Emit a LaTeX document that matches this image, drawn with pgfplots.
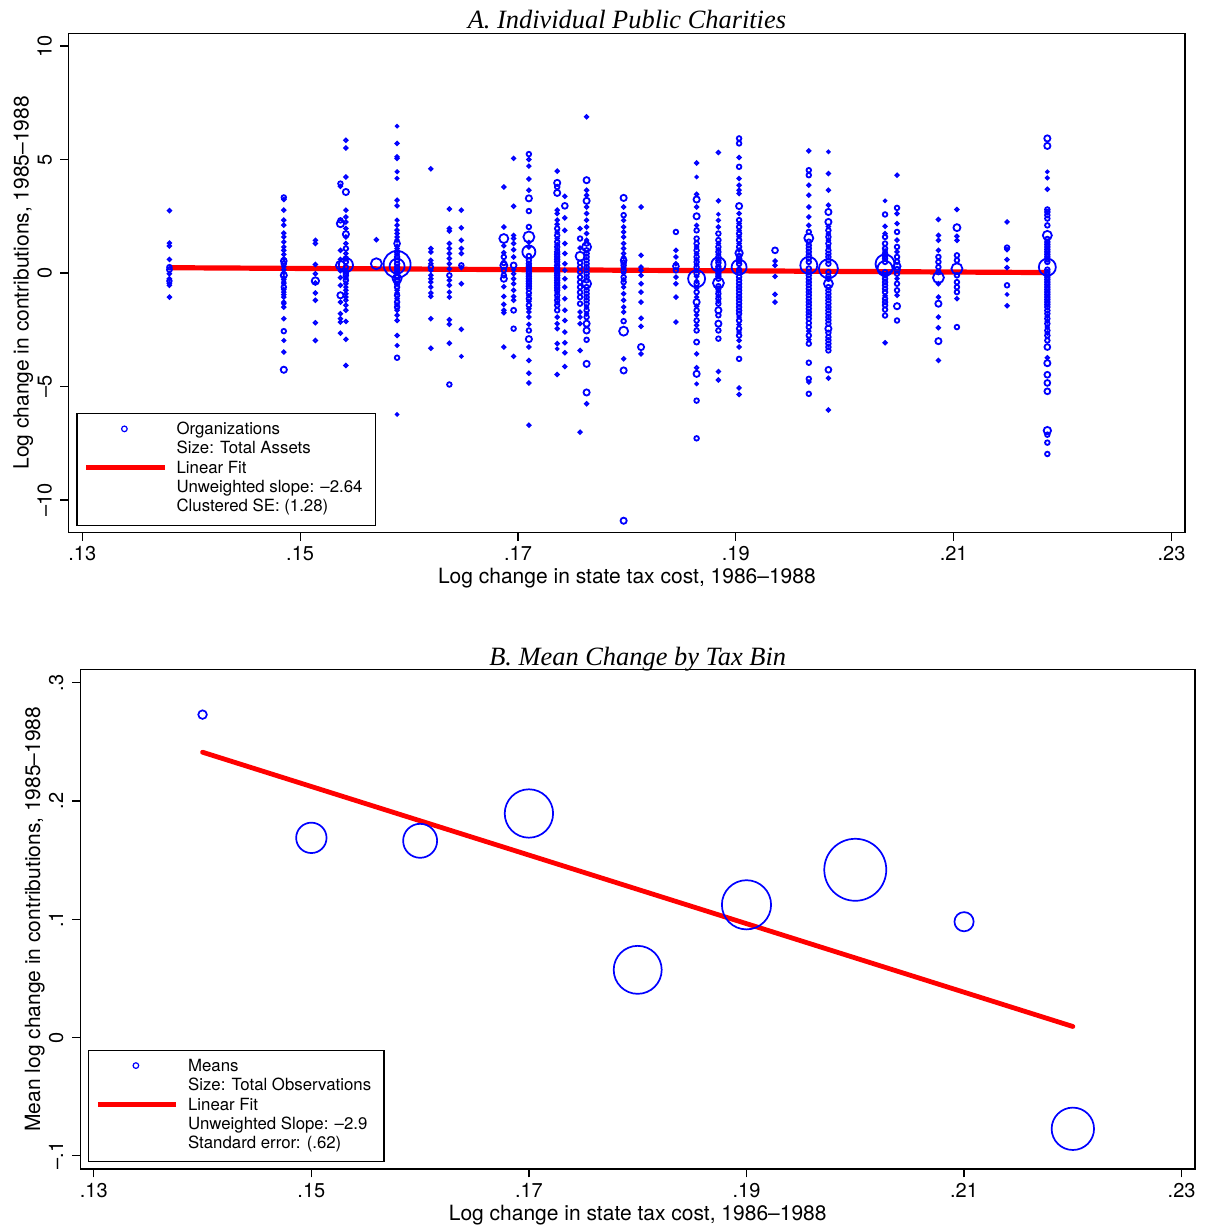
\documentclass[border=0pt]{standalone}
\usepackage{fontspec}
\setmainfont{TeX Gyre Heros}
\newfontfamily\titlefont{Liberation Serif}
\usepackage{pgfplots}
\usepackage{pgfplotstable}
\pgfplotsset{compat=1.18}

% panel A: one row per organization, x = tax cost change, y = contribution change, s = marker radius (pt)
\pgfplotstableread[row sep=\\]{
x y s\\
.1380 2.75 .6\\ .1380 1.32 .6\\ .1380 1.19 .6\\ .1380 0.60 .6\\ .1380 0.26 .9\\ .1380 0.15 1.0\\ .1380 -0.03 .6\\ .1380 -0.25 .6\\ .1380 -0.35 .9\\ .1380 -0.46 .6\\ .1380 -0.54 .6\\ .1380 -1.06 .6\\
.1485 3.33 .9\\ .1485 3.24 .6\\ .1485 2.77 .6\\ .1485 2.33 .6\\ .1485 2.11 .6\\ .1485 1.76 .6\\ .1485 1.59 .6\\ .1485 1.37 .6\\ .1485 1.15 .6\\ .1485 1.00 .6\\ .1485 0.82 .6\\ .1485 0.63 .6\\ .1485 0.53 1.2\\ .1485 0.41 .9\\ .1485 0.28 .6\\ .1485 0.15 .6\\ .1485 0.02 .6\\ .1485 -0.10 1.3\\ .1485 -0.20 .6\\ .1485 -0.29 .6\\ .1485 -0.40 .6\\ .1485 -0.47 .6\\ .1485 -0.62 .9\\ .1485 -0.73 .6\\ .1485 -0.84 .6\\ .1485 -0.95 .6\\ .1485 -1.06 .6\\ .1485 -1.28 .6\\ .1485 -1.35 .6\\ .1485 -1.50 .6\\ .1485 -2.01 .6\\ .1485 -2.56 .9\\ .1485 -2.97 .5\\ .1485 -3.48 .6\\ .1485 -4.26 1.3\\
.1514 1.44 .6\\ .1514 1.30 .6\\ .1514 0.38 .6\\ .1514 -0.03 .6\\ .1514 -0.35 1.6\\ .1514 -0.44 .6\\ .1514 -0.88 .6\\ .1514 -1.20 .6\\ .1514 -2.19 .6\\ .1514 -2.97 .6\\
.1537 3.94 .9\\ .1537 3.82 .6\\ .1537 2.32 .9\\ .1537 2.18 1.6\\ .1537 1.00 .6\\ .1537 0.60 .6\\ .1537 0.34 2.0\\ .1537 0.10 .6\\ .1537 -0.20 .6\\ .1537 -0.54 .6\\ .1537 -0.98 1.3\\ .1537 -1.28 .6\\ .1537 -1.79 .6\\ .1537 -2.01 .6\\ .1537 -2.16 .6\\ .1537 -2.65 .6\\
.1542 5.85 .6\\ .1542 5.51 .6\\ .1542 4.23 .6\\ .1542 3.57 1.3\\ .1542 2.77 .6\\ .1542 2.47 .6\\ .1542 2.25 .6\\ .1542 1.96 .6\\ .1542 1.71 1.3\\ .1542 1.59 .6\\ .1542 1.30 .6\\ .1542 1.08 .9\\ .1542 0.86 .6\\ .1542 0.64 .9\\ .1542 0.49 .9\\ .1542 0.35 3.3\\ .1542 0.26 .9\\ .1542 0.12 .6\\ .1542 0.00 .9\\ .1542 -0.10 .9\\ .1542 -0.22 .6\\ .1542 -0.32 .9\\ .1542 -0.47 .6\\ .1542 -0.62 .6\\ .1542 -0.76 .6\\ .1542 -0.91 .6\\ .1542 -1.06 .6\\ .1542 -1.20 .6\\ .1542 -1.42 .6\\ .1542 -1.64 .6\\ .1542 -2.13 .6\\ .1542 -2.92 .6\\ .1542 -4.07 .6\\
.1570 0.41 2.5\\ .1570 1.47 .6\\
.1589 6.47 .4\\ .1589 5.71 .6\\ .1589 5.12 .6\\ .1589 5.05 .6\\ .1589 4.46 .5\\ .1589 4.17 .5\\ .1589 3.21 .6\\ .1589 2.96 .6\\ .1589 2.33 .5\\ .1589 2.11 .6\\ .1589 1.89 .6\\ .1589 1.74 .6\\ .1589 1.59 .6\\ .1589 1.45 .6\\ .1589 1.30 1.2\\ .1589 1.18 .6\\ .1589 1.08 .6\\ .1589 0.93 .9\\ .1589 0.82 .6\\ .1589 0.71 .9\\ .1589 0.56 .9\\ .1589 0.41 .9\\ .1589 0.38 6.5\\ .1589 0.30 3.5\\ .1589 0.26 .9\\ .1589 0.12 .9\\ .1589 0.00 .9\\ .1589 -0.18 .9\\ .1589 -0.25 2.0\\ .1589 -0.32 .9\\ .1589 -0.47 .9\\ .1589 -0.62 .9\\ .1589 -0.76 .6\\ .1589 -0.88 .6\\ .1589 -0.98 .9\\ .1589 -1.13 .6\\ .1589 -1.28 .9\\ .1589 -1.40 .6\\ .1589 -1.50 .9\\ .1589 -1.64 .6\\ .1589 -1.86 .6\\ .1589 -2.09 .6\\ .1589 -2.75 .6\\ .1589 -3.19 .5\\ .1589 -3.73 .9\\ .1589 -6.23 .4\\
.1620 4.59 .6\\ .1620 1.08 .6\\ .1620 0.93 .6\\ .1620 0.56 .6\\ .1620 0.41 .6\\ .1620 0.26 .9\\ .1620 0.12 .6\\ .1620 -0.10 .6\\ .1620 -0.25 .6\\ .1620 -0.40 .6\\ .1620 -0.62 .6\\ .1620 -0.88 .6\\ .1620 -1.03 .6\\ .1620 -2.01 .6\\ .1620 -3.31 .6\\
.1637 2.82 .6\\ .1637 1.96 .6\\ .1637 1.85 .6\\ .1637 1.30 .6\\ .1637 1.08 .6\\ .1637 0.86 .6\\ .1637 0.64 .6\\ .1637 0.41 .6\\ .1637 0.19 .6\\ .1637 -0.10 .9\\ .1637 -0.32 .6\\ .1637 -0.54 .6\\ .1637 -0.84 .6\\ .1637 -1.06 .6\\ .1637 -2.06 .6\\ .1637 -2.26 .6\\ .1637 -3.09 .6\\ .1637 -4.91 .9\\
.1648 2.77 .6\\ .1648 1.99 .6\\ .1648 1.44 .6\\ .1648 1.08 .6\\ .1648 0.86 .6\\ .1648 0.34 .9\\ .1648 0.24 .6\\ .1648 -0.47 .6\\ .1648 -2.48 .6\\ .1648 -3.67 .4\\
.1687 3.79 .6\\ .1687 2.03 .6\\ .1687 1.52 2.0\\ .1687 1.20 .6\\ .1687 0.90 .6\\ .1687 0.71 .9\\ .1687 0.44 .9\\ .1687 0.34 1.5\\ .1687 0.12 .9\\ .1687 -0.10 .9\\ .1687 -0.25 1.3\\ .1687 -0.60 .6\\ .1687 -1.03 .6\\ .1687 -1.38 .6\\ .1687 -1.64 .6\\ .1687 -1.75 .6\\ .1687 -3.26 .6\\
.1696 5.05 .6\\ .1696 2.94 .6\\ .1696 1.66 .6\\ .1696 1.52 .6\\ .1696 1.30 .6\\ .1696 1.03 .6\\ .1696 0.71 .6\\ .1696 0.34 1.2\\ .1696 0.15 .6\\ .1696 -0.03 .6\\ .1696 -0.25 .6\\ .1696 -0.47 .6\\ .1696 -0.76 .6\\ .1696 -1.03 .6\\ .1696 -1.20 .6\\ .1696 -1.64 1.0\\ .1696 -2.45 .9\\ .1696 -3.67 .6\\
.1710 5.24 .9\\ .1710 5.00 .6\\ .1710 4.71 .6\\ .1710 4.14 .6\\ .1710 3.65 .6\\ .1710 3.29 1.3\\ .1710 2.73 .9\\ .1710 2.03 .9\\ .1710 1.59 2.5\\ .1710 1.35 .6\\ .1710 1.15 .6\\ .1710 0.93 3.0\\ .1710 0.75 .9\\ .1710 0.56 .9\\ .1710 0.41 .9\\ .1710 0.30 .9\\ .1710 0.19 .9\\ .1710 0.08 .9\\ .1710 -0.03 .9\\ .1710 -0.14 .9\\ .1710 -0.25 .9\\ .1710 -0.36 .9\\ .1710 -0.47 .9\\ .1710 -0.58 .9\\ .1710 -0.69 .9\\ .1710 -0.88 .9\\ .1710 -1.00 .6\\ .1710 -1.13 .9\\ .1710 -1.25 .6\\ .1710 -1.42 .9\\ .1710 -1.57 .6\\ .1710 -1.72 .6\\ .1710 -1.94 .6\\ .1710 -2.26 .6\\ .1710 -2.53 .9\\ .1710 -2.91 1.3\\ .1710 -3.26 .6\\ .1710 -3.85 .6\\ .1710 -4.41 .6\\ .1710 -4.84 .6\\ .1710 -6.70 .6\\
.1736 4.49 .6\\ .1736 3.97 1.3\\ .1736 3.79 .9\\ .1736 3.53 1.3\\ .1736 2.77 .6\\ .1736 2.62 .6\\ .1736 2.33 .6\\ .1736 2.15 .6\\ .1736 1.96 .9\\ .1736 1.80 .6\\ .1736 1.66 .9\\ .1736 1.52 .6\\ .1736 1.37 .9\\ .1736 1.25 .6\\ .1736 1.15 .9\\ .1736 1.04 .6\\ .1736 0.93 .9\\ .1736 0.82 .9\\ .1736 0.71 .9\\ .1736 0.60 .9\\ .1736 0.49 .9\\ .1736 0.34 .9\\ .1736 0.23 .9\\ .1736 0.12 .9\\ .1736 0.00 .9\\ .1736 -0.10 .9\\ .1736 -0.21 .9\\ .1736 -0.32 .9\\ .1736 -0.43 .9\\ .1736 -0.54 .9\\ .1736 -0.65 .9\\ .1736 -0.76 .9\\ .1736 -0.87 .6\\ .1736 -0.98 .9\\ .1736 -1.09 .6\\ .1736 -1.20 .9\\ .1736 -1.31 .6\\ .1736 -1.42 .9\\ .1736 -1.64 .9\\ .1736 -1.94 .6\\ .1736 -2.23 .6\\ .1736 -2.45 .6\\ .1736 -3.11 .6\\ .1736 -3.34 .4\\ .1736 -4.47 .6\\
.1743 3.38 .6\\ .1743 2.96 1.2\\ .1743 2.43 .6\\ .1743 1.88 .6\\ .1743 1.30 .6\\ .1743 0.86 .6\\ .1743 0.41 .6\\ .1743 0.12 .6\\ .1743 -0.25 .6\\ .1743 -0.62 .6\\ .1743 -1.13 .6\\ .1743 -1.64 .6\\ .1743 -2.09 .6\\ .1743 -2.60 .6\\ .1743 -3.07 .6\\ .1743 -3.51 .6\\ .1743 -4.12 .6\\
.1757 1.96 .6\\ .1757 1.52 .9\\ .1757 1.10 .6\\ .1757 0.74 2.0\\ .1757 0.45 .9\\ .1757 0.26 .9\\ .1757 0.05 .9\\ .1757 -0.18 .9\\ .1757 -0.40 .9\\ .1757 -0.62 .9\\ .1757 -0.85 .9\\ .1757 -1.06 .9\\ .1757 -1.35 .9\\ .1757 -1.72 .6\\ .1757 -1.94 .6\\ .1757 -2.23 .6\\ .1757 -3.41 .6\\ .1757 -7.01 .6\\
.1763 6.88 .6\\ .1763 4.09 1.3\\ .1763 3.65 .6\\ .1763 3.43 .6\\ .1763 3.18 1.3\\ .1763 2.91 .6\\ .1763 2.62 .6\\ .1763 2.33 .6\\ .1763 2.03 .6\\ .1763 1.74 .6\\ .1763 1.45 .6\\ .1763 1.30 .9\\ .1763 1.15 2.0\\ .1763 1.00 .9\\ .1763 0.86 .9\\ .1763 0.71 .9\\ .1763 0.56 .9\\ .1763 0.41 .9\\ .1763 0.26 .9\\ .1763 0.12 .9\\ .1763 -0.03 .9\\ .1763 -0.18 .9\\ .1763 -0.32 .9\\ .1763 -0.47 2.0\\ .1763 -0.62 .9\\ .1763 -0.76 .9\\ .1763 -0.91 .9\\ .1763 -1.06 .9\\ .1763 -1.20 .9\\ .1763 -1.35 .9\\ .1763 -1.50 .6\\ .1763 -1.64 .9\\ .1763 -1.80 .6\\ .1763 -1.94 .9\\ .1763 -2.23 1.3\\ .1763 -2.53 1.3\\ .1763 -2.94 .9\\ .1763 -4.00 1.3\\ .1763 -5.26 1.3\\ .1763 -5.76 .6\\
.1797 3.31 1.3\\ .1797 2.91 .6\\ .1797 2.55 .9\\ .1797 2.32 .6\\ .1797 2.03 .6\\ .1797 1.81 .6\\ .1797 1.59 .6\\ .1797 1.30 .6\\ .1797 1.08 .6\\ .1797 0.86 .6\\ .1797 0.70 .6\\ .1797 0.56 1.2\\ .1797 0.45 .9\\ .1797 0.34 .9\\ .1797 0.23 .6\\ .1797 0.12 .9\\ .1797 0.00 .6\\ .1797 -0.18 .9\\ .1797 -0.30 .6\\ .1797 -0.40 .9\\ .1797 -0.62 .6\\ .1797 -0.91 .6\\ .1797 -1.20 .6\\ .1797 -1.50 .6\\ .1797 -1.72 .6\\ .1797 -2.12 .9\\ .1797 -2.56 2.0\\ .1797 -3.78 .6\\ .1797 -4.29 1.3\\ .1797 -10.91 1.3\\
.1813 2.91 .6\\ .1813 0.78 .6\\ .1813 0.26 .6\\ .1813 0.12 .6\\ .1813 -0.10 .6\\ .1813 -0.47 .6\\ .1813 -0.84 .6\\ .1813 -1.28 .6\\ .1813 -1.99 .6\\ .1813 -2.35 .6\\ .1813 -3.26 1.3\\ .1813 -3.56 .6\\
.1845 1.81 .9\\ .1845 1.00 .6\\ .1845 0.71 .6\\ .1845 0.41 .6\\ .1845 0.30 1.2\\ .1845 0.12 .9\\ .1845 -0.18 .6\\ .1845 -0.47 .6\\ .1845 -1.06 .6\\ .1845 -2.16 .6\\
.1864 4.85 .6\\ .1864 4.23 .4\\ .1864 3.47 .6\\ .1864 3.24 1.3\\ .1864 2.91 .6\\ .1864 2.50 1.3\\ .1864 2.10 .6\\ .1864 1.88 .9\\ .1864 1.52 .9\\ .1864 1.30 .9\\ .1864 1.15 .6\\ .1864 1.00 .9\\ .1864 0.85 .6\\ .1864 0.71 .9\\ .1864 0.60 .6\\ .1864 0.49 .9\\ .1864 0.37 .6\\ .1864 0.26 .9\\ .1864 0.12 .6\\ .1864 -0.03 .9\\ .1864 -0.15 .6\\ .1864 -0.25 4.0\\ .1864 -0.36 .6\\ .1864 -0.47 .9\\ .1864 -0.66 .6\\ .1864 -0.84 .9\\ .1864 -1.06 .6\\ .1864 -1.28 1.3\\ .1864 -1.46 .6\\ .1864 -1.64 .9\\ .1864 -1.85 .6\\ .1864 -2.09 .9\\ .1864 -2.30 .6\\ .1864 -2.53 .9\\ .1864 -3.04 1.0\\ .1864 -3.56 .6\\ .1864 -4.17 .6\\ .1864 -4.44 1.3\\ .1864 -4.88 .4\\ .1864 -5.62 .9\\ .1864 -7.28 .9\\
.1884 5.31 .6\\ .1884 3.18 .6\\ .1884 2.59 .4\\ .1884 2.32 .6\\ .1884 2.03 .6\\ .1884 1.74 .9\\ .1884 1.45 .9\\ .1884 1.30 .6\\ .1884 1.15 .9\\ .1884 1.03 .6\\ .1884 0.93 .9\\ .1884 0.82 .6\\ .1884 0.71 .9\\ .1884 0.56 .9\\ .1884 0.45 .9\\ .1884 0.38 3.3\\ .1884 0.28 .9\\ .1884 0.19 .9\\ .1884 0.08 .9\\ .1884 -0.03 .9\\ .1884 -0.14 .9\\ .1884 -0.25 .9\\ .1884 -0.44 2.5\\ .1884 -0.58 .9\\ .1884 -0.69 .9\\ .1884 -0.80 .6\\ .1884 -0.91 .9\\ .1884 -1.02 .6\\ .1884 -1.13 .9\\ .1884 -1.24 .6\\ .1884 -1.35 .9\\ .1884 -1.64 1.3\\ .1884 -1.86 .9\\ .1884 -2.23 1.3\\ .1884 -2.53 .9\\ .1884 -2.89 .9\\ .1884 -4.34 .6\\ .1884 -4.71 .6\\
.1903 5.93 .9\\ .1903 5.71 .9\\ .1903 5.09 .6\\ .1903 4.68 .9\\ .1903 4.16 .6\\ .1903 3.87 .6\\ .1903 3.65 .6\\ .1903 3.50 .6\\ .1903 2.95 1.3\\ .1903 2.62 .6\\ .1903 2.33 .9\\ .1903 2.18 .6\\ .1903 2.03 .9\\ .1903 1.88 .6\\ .1903 1.74 .9\\ .1903 1.60 .6\\ .1903 1.45 .9\\ .1903 1.30 .6\\ .1903 1.15 .9\\ .1903 1.02 .6\\ .1903 0.88 1.6\\ .1903 0.75 .9\\ .1903 0.64 .9\\ .1903 0.52 .9\\ .1903 0.40 .9\\ .1903 0.26 3.5\\ .1903 0.14 .9\\ .1903 0.03 .9\\ .1903 -0.17 .9\\ .1903 -0.32 .9\\ .1903 -0.47 .9\\ .1903 -0.62 .9\\ .1903 -0.76 .9\\ .1903 -0.91 .9\\ .1903 -1.06 .9\\ .1903 -1.20 .9\\ .1903 -1.35 .9\\ .1903 -1.50 .9\\ .1903 -1.65 .9\\ .1903 -1.79 .9\\ .1903 -1.94 .6\\ .1903 -2.09 .9\\ .1903 -2.27 .6\\ .1903 -2.45 .9\\ .1903 -2.60 .6\\ .1903 -2.75 .9\\ .1903 -2.97 .6\\ .1903 -3.26 .6\\ .1903 -3.78 .9\\ .1903 -5.06 .6\\ .1903 -5.35 .6\\
.1936 1.00 1.2\\ .1936 0.53 .6\\ .1936 0.34 .6\\ .1936 -0.15 .6\\ .1936 -0.94 .6\\ .1936 -1.28 .6\\
.1967 5.38 .6\\ .1967 4.53 .9\\ .1967 4.31 .9\\ .1967 3.87 .6\\ .1967 3.43 .6\\ .1967 2.91 .6\\ .1967 2.47 .6\\ .1967 2.10 .6\\ .1967 1.81 .9\\ .1967 1.54 2.0\\ .1967 1.38 .9\\ .1967 1.22 .9\\ .1967 1.08 .9\\ .1967 0.93 .9\\ .1967 0.78 .9\\ .1967 0.64 .9\\ .1967 0.49 .9\\ .1967 0.34 4.0\\ .1967 0.20 .9\\ .1967 0.04 .9\\ .1967 -0.10 .9\\ .1967 -0.25 .9\\ .1967 -0.40 .9\\ .1967 -0.54 .9\\ .1967 -0.69 .9\\ .1967 -0.84 .9\\ .1967 -0.98 .9\\ .1967 -1.13 .9\\ .1967 -1.28 .9\\ .1967 -1.42 .9\\ .1967 -1.57 .9\\ .1967 -1.72 .9\\ .1967 -1.86 .9\\ .1967 -2.01 .9\\ .1967 -2.20 .9\\ .1967 -2.38 .9\\ .1967 -2.56 .6\\ .1967 -2.75 .9\\ .1967 -2.93 .6\\ .1967 -3.11 .9\\ .1967 -3.95 .9\\ .1967 -4.66 .9\\ .1967 -4.80 .6\\ .1967 -5.32 .9\\
.1985 5.34 .4\\ .1985 4.38 .6\\ .1985 3.65 .6\\ .1985 2.99 .6\\ .1985 2.69 1.3\\ .1985 2.25 1.3\\ .1985 2.05 .6\\ .1985 1.88 .9\\ .1985 1.72 .6\\ .1985 1.59 .9\\ .1985 1.45 .6\\ .1985 1.30 .9\\ .1985 1.15 .6\\ .1985 1.00 .9\\ .1985 0.85 .9\\ .1985 0.71 .9\\ .1985 0.56 .9\\ .1985 0.41 .9\\ .1985 0.19 4.5\\ .1985 0.04 .9\\ .1985 -0.14 .9\\ .1985 -0.25 .9\\ .1985 -0.47 2.0\\ .1985 -0.62 .9\\ .1985 -0.76 .9\\ .1985 -0.91 .9\\ .1985 -1.06 .9\\ .1985 -1.20 .9\\ .1985 -1.35 .9\\ .1985 -1.50 .9\\ .1985 -1.64 .9\\ .1985 -1.79 .9\\ .1985 -1.94 .9\\ .1985 -2.08 .9\\ .1985 -2.23 .9\\ .1985 -2.45 1.3\\ .1985 -2.63 .9\\ .1985 -2.82 .9\\ .1985 -2.96 .9\\ .1985 -3.11 .9\\ .1985 -3.26 .9\\ .1985 -3.41 .9\\ .1985 -4.26 1.2\\ .1985 -4.63 .6\\ .1985 -6.03 .6\\
.2037 3.18 .4\\ .2037 2.58 .9\\ .2037 2.06 .6\\ .2037 1.74 .6\\ .2037 1.59 .9\\ .2037 1.30 .9\\ .2037 1.08 .9\\ .2037 0.97 .6\\ .2037 0.86 .9\\ .2037 0.75 .9\\ .2037 0.64 .9\\ .2037 0.49 .9\\ .2037 0.40 4.5\\ .2037 0.20 3.5\\ .2037 0.04 .9\\ .2037 -0.10 .9\\ .2037 -0.25 .9\\ .2037 -0.40 .9\\ .2037 -0.54 .9\\ .2037 -0.69 .9\\ .2037 -0.84 .9\\ .2037 -1.00 .6\\ .2037 -1.13 .9\\ .2037 -1.28 .9\\ .2037 -1.42 .9\\ .2037 -1.61 .9\\ .2037 -1.87 .9\\ .2037 -3.07 .6\\
.2048 4.31 .6\\ .2048 2.87 .9\\ .2048 2.62 .6\\ .2048 2.18 .6\\ .2048 1.81 .9\\ .2048 1.45 .6\\ .2048 1.15 .9\\ .2048 0.93 .6\\ .2048 0.71 .9\\ .2048 0.50 .9\\ .2048 0.30 1.5\\ .2048 0.15 1.2\\ .2048 -0.03 .9\\ .2048 -0.25 .6\\ .2048 -0.47 .9\\ .2048 -0.76 .9\\ .2048 -0.98 .6\\ .2048 -1.46 1.3\\ .2048 -2.09 .9\\
.2086 2.36 .6\\ .2086 1.66 .6\\ .2086 1.44 .6\\ .2086 1.00 .6\\ .2086 0.71 .9\\ .2086 0.49 .9\\ .2086 0.26 .9\\ .2086 0.04 .9\\ .2086 -0.20 2.5\\ .2086 -0.47 .6\\ .2086 -1.06 .6\\ .2086 -1.35 1.3\\ .2086 -1.94 .6\\ .2086 -2.41 .6\\ .2086 -3.00 1.3\\ .2086 -3.85 .6\\
.2103 2.80 .6\\ .2103 2.00 1.5\\ .2103 1.62 .6\\ .2103 1.44 .6\\ .2103 0.78 .9\\ .2103 0.56 .9\\ .2103 0.19 2.5\\ .2103 -0.10 .9\\ .2103 -0.40 .9\\ .2103 -0.62 .9\\ .2103 -0.84 .9\\ .2103 -1.13 .6\\ .2103 -2.38 .9\\
.2149 2.25 .6\\ .2149 1.12 .9\\ .2149 1.03 .6\\ .2149 0.59 .6\\ .2149 0.24 .6\\ .2149 -0.54 .9\\ .2149 -0.94 .4\\ .2149 -1.44 .6\\
.2186 5.93 1.3\\ .2186 5.60 1.3\\ .2186 4.46 .4\\ .2186 4.19 .5\\ .2186 3.69 .6\\ .2186 2.80 .9\\ .2186 2.69 .9\\ .2186 2.55 .9\\ .2186 2.40 .9\\ .2186 2.10 .9\\ .2186 1.66 2.0\\ .2186 1.50 .9\\ .2186 1.37 .9\\ .2186 1.26 .9\\ .2186 1.15 .9\\ .2186 1.04 .9\\ .2186 0.93 .9\\ .2186 0.82 .9\\ .2186 0.71 .9\\ .2186 0.60 .9\\ .2186 0.49 .9\\ .2186 0.26 4.0\\ .2186 0.15 .9\\ .2186 0.04 .9\\ .2186 -0.07 .9\\ .2186 -0.18 .9\\ .2186 -0.29 .9\\ .2186 -0.40 .9\\ .2186 -0.51 .9\\ .2186 -0.62 .9\\ .2186 -0.73 .9\\ .2186 -0.84 .9\\ .2186 -0.95 .9\\ .2186 -1.06 .9\\ .2186 -1.17 .9\\ .2186 -1.28 .9\\ .2186 -1.39 .9\\ .2186 -1.50 .9\\ .2186 -1.65 .9\\ .2186 -1.79 .9\\ .2186 -1.90 .6\\ .2186 -2.01 .9\\ .2186 -2.12 .6\\ .2186 -2.23 .9\\ .2186 -2.38 .6\\ .2186 -2.53 .9\\ .2186 -2.64 .6\\ .2186 -2.75 .9\\ .2186 -2.97 .9\\ .2186 -3.26 1.2\\ .2186 -3.73 .6\\ .2186 -3.97 1.3\\ .2186 -4.48 1.2\\ .2186 -4.84 1.2\\ .2186 -5.21 1.2\\ .2186 -6.94 1.6\\ .2186 -7.12 .9\\ .2186 -7.47 .9\\ .2186 -7.97 .9\\
}\orgs

% panel B: bin means, s = marker radius (pt)
\pgfplotstableread{
x y s
0.14 0.273 2.15
0.15 0.1688 7.6
0.16 0.1663 8.5
0.17 0.1894 12.1
0.18 0.0572 12.0
0.19 0.1122 12.3
0.20 0.1418 15.5
0.21 0.0979 4.8
0.22 -0.0772 10.6
}\means

\newcommand{\lgtext}[1]{\begin{tabular}[t]{@{}l@{\hspace{3pt}}}#1\end{tabular}}
\newcommand{\tickfont}{\fontsize{10}{12}\selectfont}
\newcommand{\labfont}{\fontsize{10.5}{12.5}\selectfont}

\pgfplotsset{
  stata/.style={
    scale only axis,
    xmin=0.12877, xmax=0.23123,
    xtick={0.13,0.15,0.17,0.19,0.21,0.23},
    xticklabels={.13,.15,.17,.19,.21,.23},
    tick align=outside, tick pos=left,
    major tick length=4.2pt,
    axis line style={line width=0.6pt},
    every tick/.style={black, line width=0.6pt},
    xticklabel style={anchor=base, inner sep=0pt, font=\tickfont},
    xticklabel shift=9.8pt,
    yticklabel style={rotate=90, anchor=base, inner sep=0pt, font=\tickfont},
    yticklabel shift=4.4pt,
    every axis x label/.style={at={(axis description cs:0.5,0)}, anchor=base, yshift=-25.6pt, font=\labfont},
    every axis y label/.style={at={(axis description cs:-0.036,0.5)}, rotate=90, anchor=base, font=\labfont},
    every axis title/.style={at={(0.5,1)}, anchor=base, yshift=2.4pt,
      font=\titlefont\itshape\fontsize{13.2}{15}\selectfont},
    legend style={at={(0,0)}, anchor=south west, xshift=3.8pt, yshift=3.3pt,
      draw=black, line width=0.6pt, inner xsep=3.4pt, inner ysep=4pt,
      font=\fontsize{8.4}{9.4}\selectfont,
      nodes={inner sep=0pt, text depth=, anchor=base west},
      row sep=0.7pt,
      /tikz/every odd column/.append style={column sep=4.6pt}},
    legend cell align=left,
  },
  bubbles/.style={scatter, only marks, mark=o, forget plot,
    scatter/use mapped color={draw=blue},
    visualization depends on={\thisrow{s}+#1 \as \msz},
    scatter/@pre marker code/.append style={/tikz/mark size=\msz}},
  bubbles/.default=0,
  markleg/.style={legend image code/.code={
    \draw[blue, line width=0.6pt] plot[mark=o, mark size=1.4pt] coordinates {(19pt,3pt)};}},
  lineleg/.style={legend image code/.code={
    \draw[red, line width=2.5pt] (0pt,3pt) -- (39.25pt,3pt);}},
}

\begin{document}
\begin{tikzpicture}
\useasboundingbox (0,0) rectangle (603pt,-613pt);

\begin{axis}[stata,
  at={(34.45pt,-266.15pt)}, anchor=south west,
  width=558pt, height=249.5pt,
  ymin=-11.42, ymax=10.56,
  ytick={-10,-5,0,5,10},
  yticklabels={\textendash10,\textendash5,0,5,10},
  title={A. Individual Public Charities},
  xlabel={Log change in state tax cost, 1986\textendash1988},
  ylabel={Log change in contributions, 1985\textendash1988},
]
\addplot[bubbles=0.25, line width=0.9pt, mark options={line width=0.9pt}] table[x=x, y=y] {\orgs};
\addplot[red, line width=2.6pt, forget plot] coordinates {(0.1380,0.235) (0.2186,0.022)};
\addlegendimage{markleg}
\addlegendentry{\lgtext{Organizations\\Size: Total Assets}}
\addlegendimage{lineleg}
\addlegendentry{\lgtext{Linear Fit\\Unweighted slope: \textendash2.64\\Clustered SE: (1.28)}}
\end{axis}

\begin{axis}[stata,
  at={(40.2pt,-584.5pt)}, anchor=south west,
  width=557.3pt, height=249.85pt,
  ymin=-0.1112, ymax=0.3113,
  ytick={-0.1,0,0.1,0.2,0.3},
  yticklabels={\textendash.1,0,.1,.2,.3},
  title={B. Mean Change by Tax Bin},
  xlabel={Log change in state tax cost, 1986\textendash1988},
  ylabel={Mean log change in contributions, 1985\textendash1988},
  every axis y label/.style={at={(axis description cs:-0.0362,0.5)}, rotate=90, anchor=base, font=\labfont},
  every axis title/.style={at={(0.5,1)}, anchor=base, yshift=2.1pt,
      font=\titlefont\itshape\fontsize{13.2}{15}\selectfont},
]
\addplot[bubbles, line width=0.85pt] table[x=x, y=y] {\means};
\addplot[red, line width=2.4pt, line cap=round, forget plot] coordinates {(0.14,0.2412) (0.22,0.0093)};
\addlegendimage{markleg}
\addlegendentry{\lgtext{Means\\Size: Total Observations}}
\addlegendimage{lineleg}
\addlegendentry{\lgtext{Linear Fit\\Unweighted Slope: \textendash2.9\\Standard error: (.62)}}
\end{axis}
\end{tikzpicture}
\end{document}
